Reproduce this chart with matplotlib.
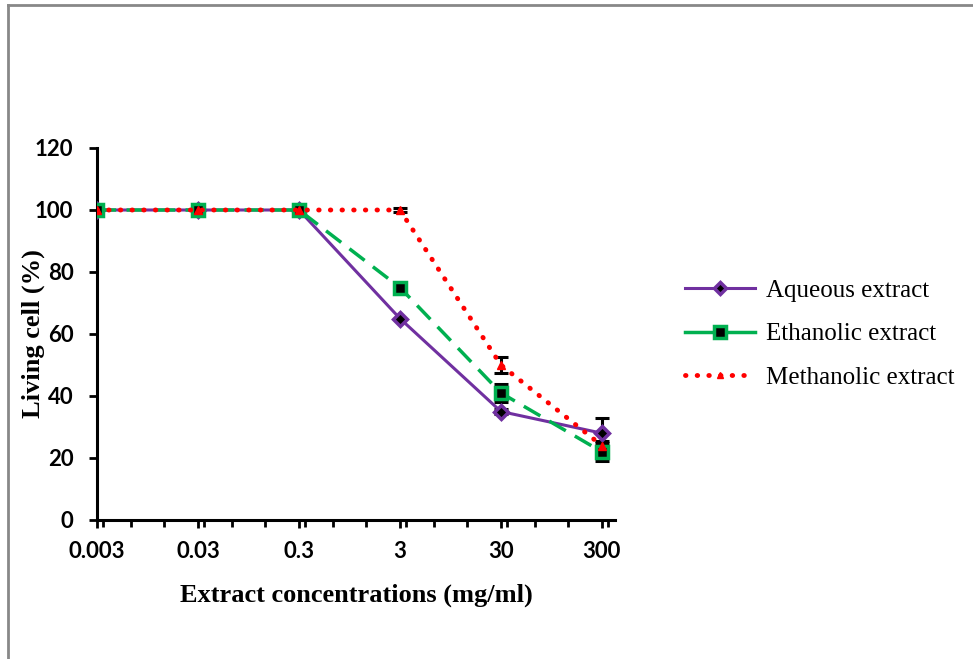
import numpy as np
import matplotlib
matplotlib.use('Agg')
import matplotlib.pyplot as plt
from matplotlib.lines import Line2D

# data
conc_labels = ['0.003', '0.03', '0.3', '3', '30', '300']
aqueous = [100, 100, 100, 65, 35, 28]
aqueous_err = [0, 0, 0, 0, 0.8, 5]
ethanolic = [100, 100, 100, 75, 41, 22]
ethanolic_err = [0, 0, 0, 0.8, 3, 3]
methanolic = [100, 100, 100, 100, 50, 24]
methanolic_err = [0, 0, 0, 0.5, 2.5, 1.5]

x = np.arange(len(conc_labels))

fig = plt.figure(figsize=(9.73, 6.59), dpi=100)
ax = fig.add_axes([97/973, 1-520/659, 518/973, 372/659])

purple, green, red = '#7030A0', '#00B050', '#FF0000'
dots = (0, (0.1, 2.3))

for vals, err in [(aqueous, aqueous_err), (ethanolic, ethanolic_err),
                  (methanolic, methanolic_err)]:
    ax.errorbar(x, vals, yerr=err, fmt='none', ecolor='black',
                elinewidth=2.2, capsize=5, capthick=2.2, zorder=2)

ax.plot(x, aqueous, color=purple, lw=2.2, marker='D', ms=7,
        mfc='black', mec=purple, mew=2.5, zorder=3)
ax.plot(x, ethanolic, color=green, lw=2.5, ls=(0, (5.5, 3)), marker='s', ms=8,
        mfc='black', mec=green, mew=2.5, zorder=4)
ax.plot(x, methanolic, color=red, lw=3.5, ls=dots, dash_capstyle='round',
        marker='^', ms=6, mfc=red, mec=red, zorder=5)

ax.set_xlim(0, 5.13)
ax.set_ylim(0, 120)
ax.set_yticks(range(0, 121, 20))
ax.set_xticks(x)
ax.set_xticklabels(conc_labels)
minor = [v + f for v in x for f in (0.06, 1/3, 2/3) if v + f < 5.13]
ax.set_xticks(minor, minor=True)

for s in ['top', 'right']:
    ax.spines[s].set_visible(False)
for s in ['left', 'bottom']:
    ax.spines[s].set_linewidth(2.2)
ax.tick_params(axis='both', which='both', direction='out', width=2, length=6,
               labelsize=16)
ax.tick_params(axis='x', which='minor', length=5)
ax.tick_params(axis='x', pad=9)
ax.tick_params(axis='y', pad=11)
for t in ax.get_xticklabels() + ax.get_yticklabels():
    t.set_fontfamily('Lato')
    t.set_fontweight('bold')

ax.set_xlabel('Extract concentrations (mg/ml)', family='Liberation Serif',
              fontweight='bold', fontsize=19)
ax.set_ylabel('Living cell (%)', family='Liberation Serif',
              fontweight='bold', fontsize=19)
ax.xaxis.set_label_coords(0.5, -0.172)
ax.yaxis.set_label_coords(-0.1, 0.5)

handles = [
    Line2D([], [], color=purple, lw=2.2, marker='D', ms=6, mfc='black', mec=purple, mew=2.5),
    Line2D([], [], color=green, lw=2.5, marker='s', ms=8, mfc='black', mec=green, mew=2.5),
    Line2D([], [], color=red, lw=3.5, ls=dots, dash_capstyle='round',
           marker='^', ms=5, mfc=red, mec=red),
]
fig.legend(handles, ['Aqueous extract', 'Ethanolic extract', 'Methanolic extract'],
           loc='center left', bbox_to_anchor=(662/973, 1-334/659), frameon=False,
           prop={'family': 'Liberation Serif', 'size': 18}, handlelength=2.8,
           labelspacing=0.85, handletextpad=0.45)

# grey frame (left and top edges visible)
fig.add_artist(Line2D([8/973, 8/973], [0, 1-5/659], color='#888888', lw=2,
                      transform=fig.transFigure))
fig.add_artist(Line2D([8/973, 1], [1-5/659, 1-5/659], color='#888888', lw=2,
                      transform=fig.transFigure))

fig.savefig('out.png', dpi=100)
